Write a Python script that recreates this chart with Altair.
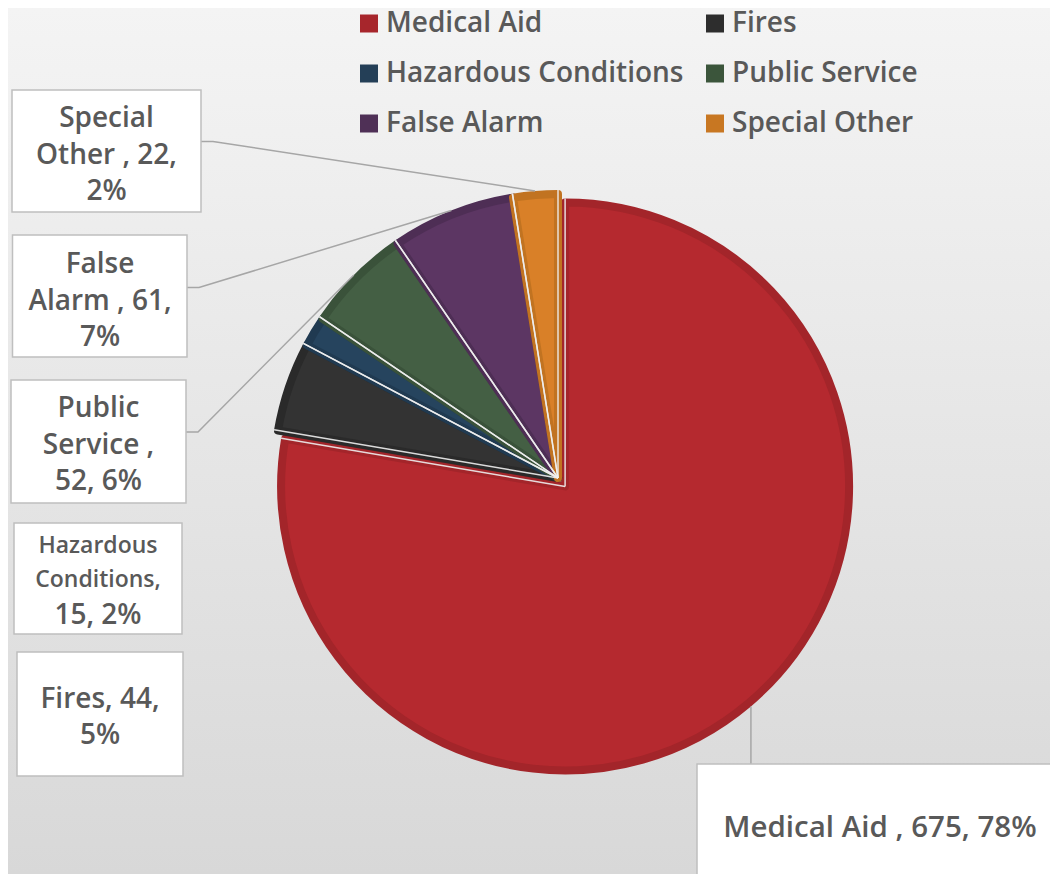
import math
import altair as alt
import pandas as pd

# ---------------- data ----------------
categories = ["Medical Aid", "Fires", "Hazardous Conditions", "Public Service", "False Alarm", "Special Other"]
counts = [675, 44, 15, 52, 61, 22]
label_lines = [
    ["Medical Aid , 675, 78%"],
    ["Fires, 44,", "5%"],
    ["Hazardous", "Conditions,", "15, 2%"],
    ["Public", "Service ,", "52, 6%"],
    ["False", "Alarm , 61,", "7%"],
    ["Special", "Other , 22,", "2%"],
]

# ---------------- styles ----------------
slice_fill = ["#b5292f", "#333333", "#26445e", "#445f44", "#5c3663", "#d98028"]
slice_edge = ["#a3252a", "#2a2a2a", "#203a51", "#3a523a", "#4e2e55", "#c17321"]
legend_colors = ["#a7262c", "#2d2d2d", "#243f57", "#3b553b", "#4f3056", "#c87722"]
TEXT_COLOR = "#595959"
FONT = "Open Sans"
WEIGHT = 600

# ---------------- layout (page pixel coordinates) ----------------
W, H = 1042, 866
OFF = 8
PIE_CX, PIE_CY, R = 558, 478, 288
EXPLODE = {"Medical Aid": 11}
box_layout = {
    "Medical Aid": dict(box=(697, 764, 1075, 900), cx=880, base=[837], fs=[29.5], leader="vertical"),
    "Fires": dict(box=(17, 652, 183, 776), cx=100, base=[708, 743.5], fs=[28, 28], leader=None),
    "Hazardous Conditions": dict(box=(14, 523, 182, 634), cx=98, base=[553, 587, 623.5], fs=[23, 23, 28], leader=None),
    "Public Service": dict(box=(11, 380, 186, 503), cx=98.5, base=[417, 453.5, 490], fs=[28, 28, 28], leader=432),
    "False Alarm": dict(box=(12.5, 235, 187, 357), cx=100, base=[273, 309.5, 345.5], fs=[28, 28, 28], leader=287.5),
    "Special Other": dict(box=(12, 90, 201, 212), cx=106.5, base=[127, 163.5, 200], fs=[28, 28, 28], leader=141.5),
}

total = sum(counts)

# ---------------- derived tables ----------------
rows = []
cum = 0
for cat, v, f, e in zip(categories, counts, slice_fill, slice_edge):
    start, end = cum, cum + v
    cum = end
    mid = (start + end) / 2 / total * 2 * math.pi
    d = EXPLODE.get(cat, 0)
    cx = PIE_CX + d * math.sin(mid)
    cy = PIE_CY - d * math.cos(mid)
    rows.append(dict(category=cat, count=v, start=start, end=end, mid=mid,
                     cx=cx, cy=cy, fill=f, edge=e))
pie = pd.DataFrame(rows)

sep_rows = []
for r in rows:
    for val in (r["start"], r["end"]):
        a = val / total * 2 * math.pi
        sep_rows.append(dict(x=r["cx"], y=r["cy"],
                             x2=r["cx"] + R * math.sin(a), y2=r["cy"] - R * math.cos(a)))
seps = pd.DataFrame(sep_rows)

box_rows, text_rows, leader_rows = [], [], []
for r, lines in zip(rows, label_lines):
    lay = box_layout[r["category"]]
    x1, y1, x2, y2 = lay["box"]
    box_rows.append(dict(category=r["category"], x1=x1, y1=y1, x2=x2, y2=y2))
    for line, b, fs in zip(lines, lay["base"], lay["fs"]):
        text_rows.append(dict(text=line, x=lay["cx"], y=b, fs=fs))
    ex = r["cx"] + R * math.sin(r["mid"])
    ey = r["cy"] - R * math.cos(r["mid"])
    if lay["leader"] == "vertical":
        pts = [(ex, ey), (ex, y1)]
    elif lay["leader"] is not None:
        ly = lay["leader"]
        pts = [(x2, ly), (x2 + 12, ly), (ex, ey)]
    else:
        pts = []
    for i, (px, py) in enumerate(pts):
        leader_rows.append(dict(category=r["category"], o=i, x=px, y=py))
boxes = pd.DataFrame(box_rows)
texts = pd.DataFrame(text_rows)
leaders = pd.DataFrame(leader_rows)
legend_df = pd.DataFrame({"category": categories})

# ---------------- scales ----------------
xs = alt.Scale(domain=[OFF, OFF + W], range=[0, W], nice=False, zero=False)
ys = alt.Scale(domain=[OFF, OFF + H], range=[0, H], nice=False, zero=False)
ts = alt.Scale(domain=[0, total], range=[0, 2 * math.pi])

# ---------------- layers ----------------
background = alt.Chart(pd.DataFrame({"a": [0]})).mark_rect(
    fill=alt.Gradient(
        gradient="linear", x1=0, x2=0, y1=0, y2=1,
        stops=[alt.GradientStop(color="#f4f4f4", offset=0),
               alt.GradientStop(color="#d8d8d8", offset=1)],
    )
).encode(x=alt.value(0), x2=alt.value(W), y=alt.value(0), y2=alt.value(H))

slices = alt.Chart(pie).mark_arc(radius=R - 4, strokeWidth=8, strokeJoin="round").encode(
    theta=alt.Theta("start:Q", scale=ts),
    theta2="end:Q",
    x=alt.X("cx:Q", scale=xs, axis=None),
    y=alt.Y("cy:Q", scale=ys, axis=None),
    fill=alt.Fill("fill:N", scale=None),
    stroke=alt.Stroke("edge:N", scale=None),
    order=alt.Order("start:Q"),
)

separators = alt.Chart(seps).mark_rule(color="#eeeeee", strokeWidth=1.5, opacity=0.9).encode(
    x=alt.X("x:Q", scale=xs, axis=None), y=alt.Y("y:Q", scale=ys, axis=None),
    x2="x2:Q", y2="y2:Q",
)

leader_lines = alt.Chart(leaders).mark_line(color="#a6a6a6", strokeWidth=1.5).encode(
    x=alt.X("x:Q", scale=xs, axis=None), y=alt.Y("y:Q", scale=ys, axis=None),
    detail="category:N", order="o:Q",
)

label_boxes = alt.Chart(boxes).mark_rect(fill="white", stroke="#bfbfbf", strokeWidth=1.5).encode(
    x=alt.X("x1:Q", scale=xs, axis=None), x2="x2:Q",
    y=alt.Y("y1:Q", scale=ys, axis=None), y2="y2:Q",
)

label_text = alt.Chart(texts).mark_text(
    font=FONT, fontWeight=WEIGHT, color=TEXT_COLOR, align="center", baseline="alphabetic"
).encode(
    x=alt.X("x:Q", scale=xs, axis=None), y=alt.Y("y:Q", scale=ys, axis=None),
    text="text:N", size=alt.Size("fs:Q", scale=None),
)

legend_layer = alt.Chart(legend_df).mark_square(opacity=0, size=324).encode(
    x=alt.value(0), y=alt.value(0),
    color=alt.Color(
        "category:N",
        scale=alt.Scale(domain=categories, range=legend_colors),
        sort=categories,
        legend=alt.Legend(
            title=None, orient="none", legendX=347, legendY=1.5, columns=2,
            direction="horizontal",
            columnPadding=17, rowPadding=22, padding=0,
            symbolType="square", symbolSize=324, symbolOpacity=1, symbolStrokeWidth=0,
            labelFont=FONT, labelFontWeight=WEIGHT, labelFontSize=28, labelColor=TEXT_COLOR,
            labelOffset=3, labelLimit=500,
        ),
    ),
)

chart = alt.layer(
    background, slices, separators, leader_lines, label_boxes, label_text, legend_layer
).properties(
    width=W, height=H, padding=0, autosize="none", background="#f4f4f4"
).configure_view(stroke=None)

chart.save("out.html", embed_options={"renderer": "svg", "actions": False})
